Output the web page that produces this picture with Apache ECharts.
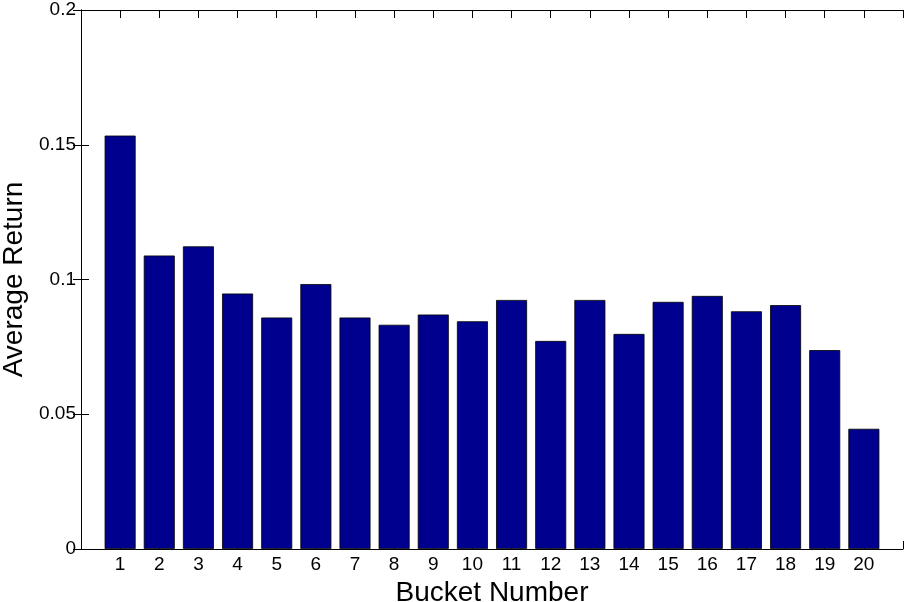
<!DOCTYPE html>
<html>
<head>
<meta charset="utf-8">
<script src="https://cdn.jsdelivr.net/npm/echarts@6/dist/echarts.min.js"></script>
<style>html,body{margin:0;padding:0;background:#fff;}#c{width:905px;height:602px;}</style>
</head>
<body>
<div id="c"></div>
<script>
const buckets = [1,2,3,4,5,6,7,8,9,10,11,12,13,14,15,16,17,18,19,20];
const avgReturn = [0.1534,0.1089,0.1123,0.0948,0.0859,0.0983,0.0859,0.0832,0.0870,0.0845,
                   0.0924,0.0772,0.0924,0.0798,0.0917,0.0939,0.0882,0.0905,0.0738,0.0446];
const yTicks = [0, 0.05, 0.1, 0.15, 0.2];
const xTitle = 'Bucket Number';
const yTitle = 'Average Return';

const chart = echarts.init(document.getElementById('c'), null, {renderer:'canvas'});
const font = '"Liberation Sans", Arial, Helvetica, sans-serif';
const lineStyle = {color:'#000', width:1};
chart.setOption({
  animation:false,
  backgroundColor:'#fff',
  grid:{left:81, right:2, top:10, bottom:53, containLabel:false, outerBoundsMode:'none'},
  xAxis:[{
    type:'value', min:0, max:21, interval:1, position:'bottom',
    axisLine:{show:true, onZero:false, lineStyle},
    axisTick:{show:true, inside:true, length:8, lineStyle},
    splitLine:{show:false},
    axisLabel:{color:'#000', fontFamily:font, fontSize:19, margin:6,
      formatter:v => buckets.includes(v) ? String(v) : ''},
    name:xTitle, nameLocation:'middle', nameGap:16,
    nameTextStyle:{color:'#000', fontFamily:font, fontSize:28, verticalAlign:'top'}
  },{
    type:'value', min:0, max:21, interval:1, position:'top',
    axisLine:{show:true, onZero:false, lineStyle},
    axisTick:{show:true, inside:true, length:8, lineStyle},
    splitLine:{show:false},
    axisLabel:{show:false}
  }],
  yAxis:[{
    type:'value', min:0, max:0.2, interval:0.05, position:'left',
    axisLine:{show:true, lineStyle},
    axisTick:{show:true, inside:true, length:8, lineStyle},
    splitLine:{show:false},
    axisLabel:{color:'#000', fontFamily:font, fontSize:19, margin:5,
      formatter:v => { const t = yTicks.find(x => Math.abs(x-v)<1e-9); return t===undefined?'':String(t); }},
    name:yTitle, nameLocation:'middle', nameGap:44, nameRotate:90,
    nameTextStyle:{color:'#000', fontFamily:font, fontSize:28}
  },{
    type:'value', min:0, max:0.2, interval:0.05, position:'right',
    axisLine:{show:true, lineStyle},
    axisTick:{show:true, inside:true, length:8, lineStyle},
    splitLine:{show:false},
    axisLabel:{show:false}
  }],
  series:[{
    type:'bar',
    xAxisIndex:0, yAxisIndex:0,
    data: buckets.map((b,i)=>[b, avgReturn[i]]),
    barWidth:31,
    itemStyle:{color:'#00008F', borderColor:'#000', borderWidth:0.8},
    z:2
  }]
});
</script>
</body>
</html>
